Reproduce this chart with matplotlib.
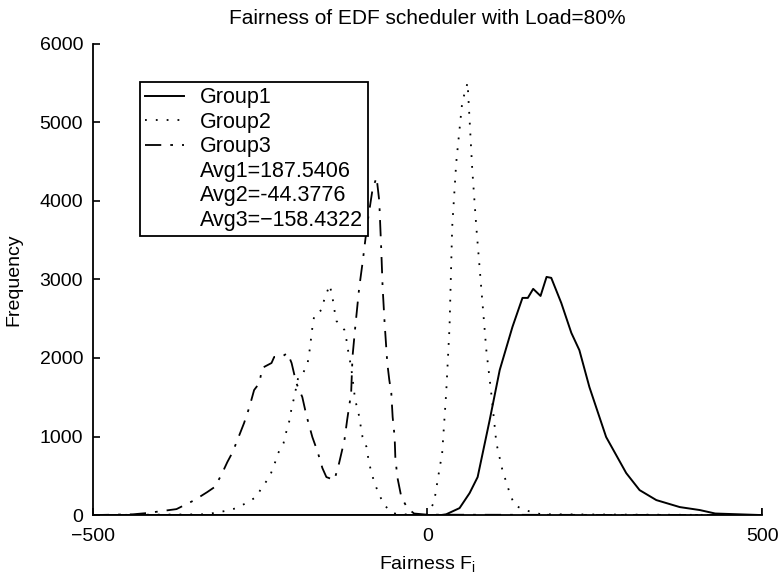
import matplotlib.pyplot as plt
from matplotlib.lines import Line2D

plt.rcParams['font.family'] = ['Liberation Sans', 'DejaVu Sans']

# values
g1_x = [-500, 20, 28, 48, 63, 75, 93, 108, 127, 142, 150, 158, 169, 178, 185,
        200, 215, 227, 242, 267, 297, 317, 342, 377, 407, 430, 500]
g1_y = [0, 0, 10, 89, 280, 484, 1210, 1847, 2395, 2765, 2765, 2880, 2790, 3032, 3020,
        2700, 2320, 2100, 1630, 994, 535, 318, 191, 102, 64, 20, 0]

g2_x = [-500, -330, -303, -285, -271, -256, -247, -236, -229, -223, -215, -211, -206,
        -203, -199, -193, -187, -179, -176, -172, -169, -158, -154, -146, -142, -139,
        -136, -124, -121, -118, -114, -108, -103, -97, -91, -88, -84, -79, -72, -64,
        -55, -45, 0, 10, 16, 22, 28, 33, 37, 43, 52, 60, 67, 73, 81, 88, 96, 103,
        112, 123, 130, 145, 170, 500]
g2_y = [0, 10, 51, 89, 153, 229, 357, 484, 637, 790, 917, 1057, 1210,
        1363, 1503, 1758, 1784, 1936, 2102, 2383, 2548, 2612, 2752, 2930, 2777, 2612,
        2472, 2357, 2230, 2064, 1885, 1465, 1300, 994, 866, 700, 548, 408, 255, 127,
        40, 10, 5, 166, 484, 790, 1554, 2395, 3670, 4485, 5260, 5504, 4395, 3670, 2830,
        2100, 1503, 917, 573, 280, 127, 64, 10, 0]

g3_x = [-500, -440, -420, -375, -348, -329, -318, -308, -299, -291, -284, -274, -266,
        -259, -251, -247, -233, -229, -218, -209, -203, -196, -187, -181, -172, -164,
        -157, -151, -139, -132, -124, -120, -114, -112, -108, -102, -97, -90, -82, -76,
        -72, -69, -67, -64, -60, -57, -54, -52, -49, -48, -45, -39, -30, -20, 0, 500]
g3_y = [0, 10, 25, 76, 191, 293, 357, 510, 675, 803, 955, 1172, 1376,
        1592, 1682, 1873, 1936, 2013, 2013, 2064, 1936, 1682, 1503, 1274, 994, 803,
        599, 484, 446, 662, 955, 1210, 1554, 2013, 2383, 2892, 3210, 3700, 4150, 4300,
        4000, 3376, 2905, 2446, 1936, 1720, 1554, 1249, 994, 739, 484, 229, 89, 20, 5, 0]

avg_labels = ['Avg1=187.5406', 'Avg2=-44.3776', 'Avg3=\u2212158.4322']

fig = plt.figure(figsize=(7.8, 5.84), dpi=100)
ax = fig.add_axes([0.119, 0.118, 0.858, 0.807])

ax.plot(g1_x, g1_y, color='black', linewidth=1.4, label='Group1')
ax.plot(g2_x, g2_y, color='black', linewidth=1.3, linestyle=(0, (1, 5)), label='Group2')
ax.plot(g3_x, g3_y, color='black', linewidth=1.3, linestyle=(0, (9, 5, 1.5, 5)), label='Group3')

ax.set_xlim(-500, 500)
ax.set_ylim(0, 6000)
ax.set_xticks([-500, 0, 500])
ax.set_xticklabels(['\u2212500', '0', '500'])
ax.set_yticks(range(0, 6001, 1000))
ax.tick_params(direction='in', labelsize=14, length=5, width=1.2)
ax.tick_params(axis='x', pad=9, top=False)
ax.tick_params(axis='y', pad=7)
ax.spines['top'].set_visible(False)
ax.spines['right'].set_visible(False)
ax.spines['left'].set_linewidth(1.3)
ax.spines['bottom'].set_linewidth(1.3)
ax.axvline(500, ymin=0, ymax=0.012, color='black', linewidth=1.2)

ax.set_title('Fairness of EDF scheduler with Load=80%', fontsize=15, pad=14)
ax.set_xlabel('Fairness F$_\\mathregular{i}$', fontsize=14, labelpad=7)
ax.set_ylabel('Frequency', fontsize=14, labelpad=12)

handles, labels = ax.get_legend_handles_labels()
for t in avg_labels:
    handles.append(Line2D([], [], color='none'))
    labels.append(t)
leg = ax.legend(handles, labels, loc='upper left', bbox_to_anchor=(0.070, 0.919),
                fontsize=15.5, frameon=True, fancybox=False, framealpha=1,
                edgecolor='black', borderpad=0.25, labelspacing=0.16,
                handlelength=1.8, handletextpad=0.75, borderaxespad=0)
leg.get_frame().set_linewidth(1.3)

fig.savefig('out.png', dpi=100)
